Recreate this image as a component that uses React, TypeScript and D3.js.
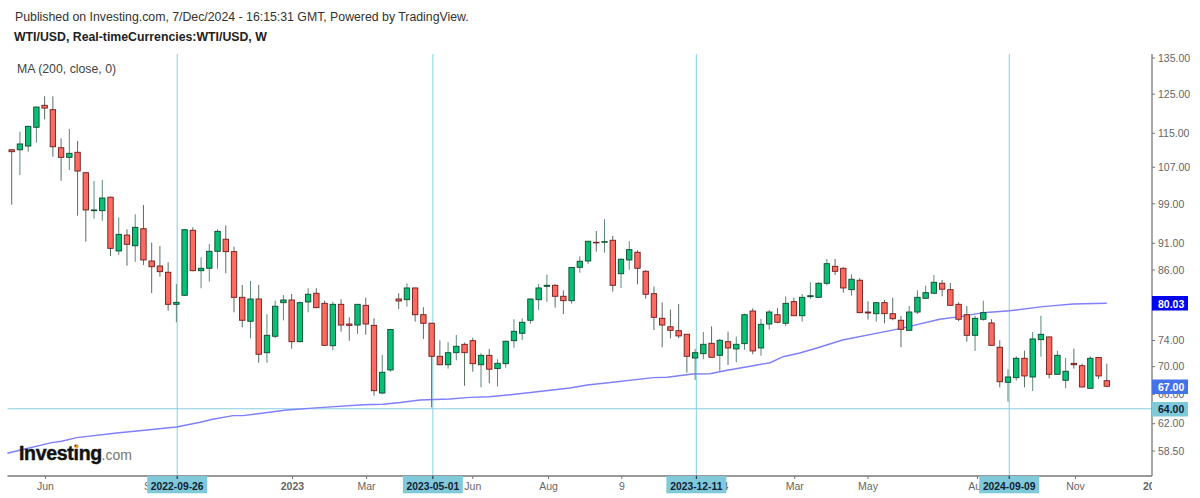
import React from "react";
import * as d3 from "d3";

const opens = [111.05,111.05,111.94,116.50,122.07,120.94,111.53,109.28,110.46,105.76,97.55,97.55,100.39,89.54,92.62,90.54,93.88,87.65,86.72,85.57,79.93,81.48,93.56,85.86,86.30,89.48,91.80,89.41,81.13,77.10,80.84,72.11,74.68,80.21,80.67,73.82,80.33,81.83,80.10,73.19,79.93,76.65,76.48,79.76,76.43,66.18,69.51,80.84,80.72,82.76,78.18,76.78,71.56,70.29,72.11,73.41,73.98,70.29,71.71,69.71,70.44,73.98,75.15,77.26,80.72,83.05,83.23,81.31,80.55,86.48,87.65,91.21,91.21,91.60,85.31,87.84,89.29,85.75,81.76,77.59,76.20,75.57,74.99,71.30,71.96,73.57,71.71,73.82,72.69,73.51,78.80,72.84,76.65,78.18,76.77,80.38,78.01,81.24,81.13,83.59,86.66,86.30,82.46,84.13,78.63,78.35,80.21,78.35,77.26,75.63,78.63,80.96,81.83,83.59,82.46,79.93,78.18,74.83,77.43,76.82,72.95,67.71,68.38,71.26,68.48,74.14,74.57,68.87,68.00,70.49,70.14,66.85,71.38,67.94];
const highs = [111.22,115.41,116.88,121.71,124.44,124.44,113.78,116.08,113.15,105.85,103.91,104.13,100.51,96.18,93.76,96.81,98.74,91.13,90.49,87.41,83.46,93.76,94.16,88.34,90.88,93.76,94.55,90.35,83.29,84.00,83.29,78.25,80.55,81.53,81.71,80.38,82.71,82.71,80.55,80.38,80.79,77.75,79.93,81.07,77.59,71.76,75.79,81.83,83.59,82.83,79.43,76.82,74.04,73.73,74.88,73.66,74.46,72.02,72.69,71.11,73.98,77.43,77.59,80.89,83.46,85.13,83.41,82.36,86.48,88.53,91.47,93.42,95.83,92.48,88.15,91.41,89.67,85.94,82.99,80.27,79.02,79.98,75.04,72.69,75.36,76.26,74.25,75.41,74.62,78.35,79.26,77.47,78.97,79.31,81.30,81.07,81.71,83.77,83.77,88.03,88.03,86.48,85.20,84.49,80.45,80.33,80.67,81.07,77.96,79.64,82.36,83.16,85.08,84.18,83.64,80.27,79.64,78.01,80.55,77.43,74.04,69.62,71.56,72.42,75.36,78.01,74.62,72.42,71.30,72.73,70.44,71.56,71.41,70.44];
const lows = [98.80,105.24,110.60,112.74,118.47,109.42,103.98,106.37,96.51,91.33,95.90,95.49,88.58,88.78,86.77,87.47,86.91,81.88,84.77,78.85,76.93,81.36,85.75,82.71,83.88,86.23,85.39,78.58,76.12,74.36,70.59,70.59,74.36,77.24,72.73,73.70,78.58,79.26,73.17,72.48,75.41,73.98,75.04,74.93,65.81,66.00,69.26,79.14,79.53,77.03,74.25,64.20,70.20,69.71,70.95,67.21,69.26,66.99,67.56,67.13,69.85,72.88,74.09,76.70,78.97,80.33,79.36,78.30,80.03,85.50,87.09,89.41,89.22,82.11,82.76,86.04,83.41,80.89,75.68,72.95,74.36,74.36,69.11,68.04,71.11,71.36,69.36,70.25,70.65,72.58,71.87,71.65,75.73,76.77,76.34,77.96,77.03,80.89,81.08,83.23,85.08,81.94,81.41,78.42,77.36,77.03,76.77,77.26,72.95,75.52,78.30,80.84,81.75,81.31,79.69,77.10,73.82,72.38,77.20,73.19,66.99,64.97,67.94,66.99,66.47,71.50,68.29,68.77,66.85,69.71,66.99,66.80,68.19,67.04];
const closes = [110.60,112.43,116.73,121.62,121.36,111.77,109.28,110.22,106.14,97.70,97.70,100.22,90.04,92.76,90.82,94.16,87.84,86.59,85.68,79.93,80.27,93.68,85.86,86.30,89.48,93.36,89.41,81.13,77.26,80.84,71.87,74.83,79.60,80.67,73.82,80.21,81.66,79.36,73.25,79.93,76.48,76.43,79.93,76.65,66.51,69.17,75.76,80.50,82.76,78.18,76.77,71.56,70.29,72.11,73.10,72.11,70.44,71.71,69.62,70.50,73.89,75.47,76.93,80.84,82.76,83.23,81.31,80.55,86.45,87.60,91.41,91.10,91.33,83.23,87.97,89.79,86.30,81.66,77.75,76.48,75.63,74.73,71.56,72.11,73.41,71.41,74.04,72.84,73.41,78.18,72.38,76.60,78.63,76.93,80.10,78.01,81.13,81.41,83.59,87.15,85.75,82.76,84.31,78.52,78.47,80.21,78.35,77.52,75.79,78.63,81.13,81.94,83.77,82.54,79.76,77.43,74.83,77.59,78.52,73.25,67.79,68.48,71.26,68.63,74.25,74.99,68.87,71.71,69.32,70.29,67.04,71.26,68.63,67.14];

const maWeeks = [-0.53,1.6,4.86,6.07,7.9,12.75,16.4,20,22.9,24.4,26.9,28.1,33.4,37.4,42.7,45.1,47.2,49.6,53.2,55.6,58,61.4,67.8,69.9,73,77.9,79.6,82.7,84.8,86.9,89.7,92.1,93.7,95.7,97.8,100.9,107.9,112.7,115.2,118,121.2,125.2,128.9,133];
const maValues = [58.22,58.75,59.55,59.73,60.19,60.79,61.18,61.57,62.19,62.59,63.07,63.07,63.84,64.15,64.56,64.62,64.86,65.21,65.35,65.57,65.65,66.04,66.89,67.32,67.71,68.38,68.44,68.91,68.96,69.46,70.06,70.59,71.50,72.07,72.84,74.09,75.89,77.43,77.86,78.52,78.85,79.53,79.98,80.10];

const priceTicks = [135,125,115,107,99,91,86,74,70,66,62,58.5];
const timeLabels = ["Jun","Sep","2023","Mar","Jun","Aug","9","2024","Mar","May","Aug","Nov","2025"];
const timeWeeks = [4.1,17.2,34.1,43.1,56,65.2,74.1,85.6,95.1,104,117.3,129.2,138.8];
const markerDates = ["2022-09-26","2023-05-01","2023-12-11","2024-09-09"];
const markerWeeks = [20.1,51.15,83.15,121.15];

const W = 1200, H = 498;
const left = 7.5, right = 1152, top = 54, bottom = 476;
const FONT = "'Liberation Sans', Arial, sans-serif";
const LINE = "#86d0e0";
const TAG = "#7fc9db";

const x = d3.scaleLinear().domain([0, 133]).range([11.7, 1106.8]);
const y = d3.scaleLog().domain([135, 58.5]).range([58, 451]);

export default function App() {
  const maPath = d3.line<number>()
    .x((d) => x(d))
    .y((_, i) => y(maValues[i]))
    .curve(d3.curveLinear)(maWeeks) as string;
  const bodyW = 5.4;
  return (
    <svg width={W} height={H} viewBox={`0 0 ${W} ${H}`}
      style={{ position: "absolute", left: 0, top: 0, background: "#fff", fontFamily: FONT }}>
      <defs>
        <clipPath id="xclip"><rect x={0} y={476} width={right} height={22} /></clipPath>
      </defs>
      <text x={15} y={21} fontSize={12.3} fill="#333">Published on Investing.com, 7/Dec/2024 - 16:15:31 GMT, Powered by TradingView.</text>
      <text x={14} y={41} fontSize={12.3} fontWeight="bold" fill="#222">WTI/USD, Real-timeCurrencies:WTI/USD, W</text>
      <text x={17} y={73} fontSize={12.3} fill="#444">MA (200, close, 0)</text>

      {markerWeeks.map((w) => (
        <line key={w} x1={x(w)} x2={x(w)} y1={top} y2={bottom} stroke={LINE} strokeWidth={1} />
      ))}
      <line x1={left} x2={right} y1={y(64)} y2={y(64)} stroke={LINE} strokeWidth={1} />

      <path d={maPath} fill="none" stroke="#7f7fff" strokeWidth={1.4} />

      {opens.map((o, i) => {
        const c = closes[i];
        const up = c >= o;
        const cx = x(i);
        const t = y(Math.max(o, c));
        const b = y(Math.min(o, c));
        return (
          <g key={i}>
            <line x1={cx} x2={cx} y1={y(highs[i])} y2={y(lows[i])} stroke={up ? "#5c8a76" : "#5a6f60"} strokeWidth={1} />
            <rect x={cx - bodyW / 2} y={t} width={bodyW} height={Math.max(b - t, 0.6)}
              fill={up ? "#05c075" : "#ff6a5e"} stroke={up ? "#0c4a2e" : "#6e1c1c"} strokeWidth={0.9} />
          </g>
        );
      })}

      <text x={19} y={460} fontSize={19.5} fontWeight="bold" fill="#111" stroke="#111" strokeWidth={0.45} letterSpacing={-0.3}>Investing</text>
      <circle cx={77} cy={446.5} r={1.6} fill="#f5a623" />
      <text x={101.5} y={460} fontSize={14} fill="#777">.com</text>

      <line x1={left} x2={right} y1={bottom} y2={bottom} stroke="#777" strokeWidth={1.3} />
      <line x1={right} x2={right} y1={top} y2={bottom} stroke="#777" strokeWidth={1.3} />

      <g clipPath="url(#xclip)">
        {timeLabels.map((t, i) => {
          const px = x(timeWeeks[i]);
          return (
            <g key={i}>
              <line x1={px} x2={px} y1={bottom} y2={bottom + 3} stroke="#777" />
              <text x={px} y={490} fontSize={10.5} fontWeight={t.length === 4 ? "bold" : "normal"} textAnchor="middle" fill="#666">{t}</text>
            </g>
          );
        })}
      </g>

      {priceTicks.map((p) => (
        <g key={p}>
          <line x1={right} x2={right + 3} y1={y(p)} y2={y(p)} stroke="#777" />
          <text x={right + 6} y={y(p) + 3.8} fontSize={10.5} fill="#666">{p.toFixed(2)}</text>
        </g>
      ))}

      <rect x={right} y={296} width={36} height={14.5} fill="#0000f5" />
      <text x={right + 6} y={y(80.03) + 3.8} fontSize={10.5} fontWeight="bold" fill="#fff">80.03</text>
      <rect x={right} y={379.5} width={36} height={14.5} fill="#4472e8" />
      <text x={right + 6} y={y(67) + 3.8} fontSize={10.5} fontWeight="bold" fill="#fff">67.00</text>
      <rect x={right} y={402} width={36} height={14.5} fill={TAG} />
      <text x={right + 6} y={y(64) + 3.8} fontSize={10.5} fontWeight="bold" fill="#123">64.00</text>

      {markerDates.map((d, i) => {
        const px = x(markerWeeks[i]);
        return (
          <g key={d}>
            <rect x={px - 30} y={bottom} width={60} height={17.3} fill={TAG} />
            <line x1={px} x2={px} y1={bottom} y2={bottom + 3} stroke="#123" />
            <text x={px} y={490} fontSize={10.3} fontWeight="bold" textAnchor="middle" fill="#123">{d}</text>
          </g>
        );
      })}
    </svg>
  );
}
